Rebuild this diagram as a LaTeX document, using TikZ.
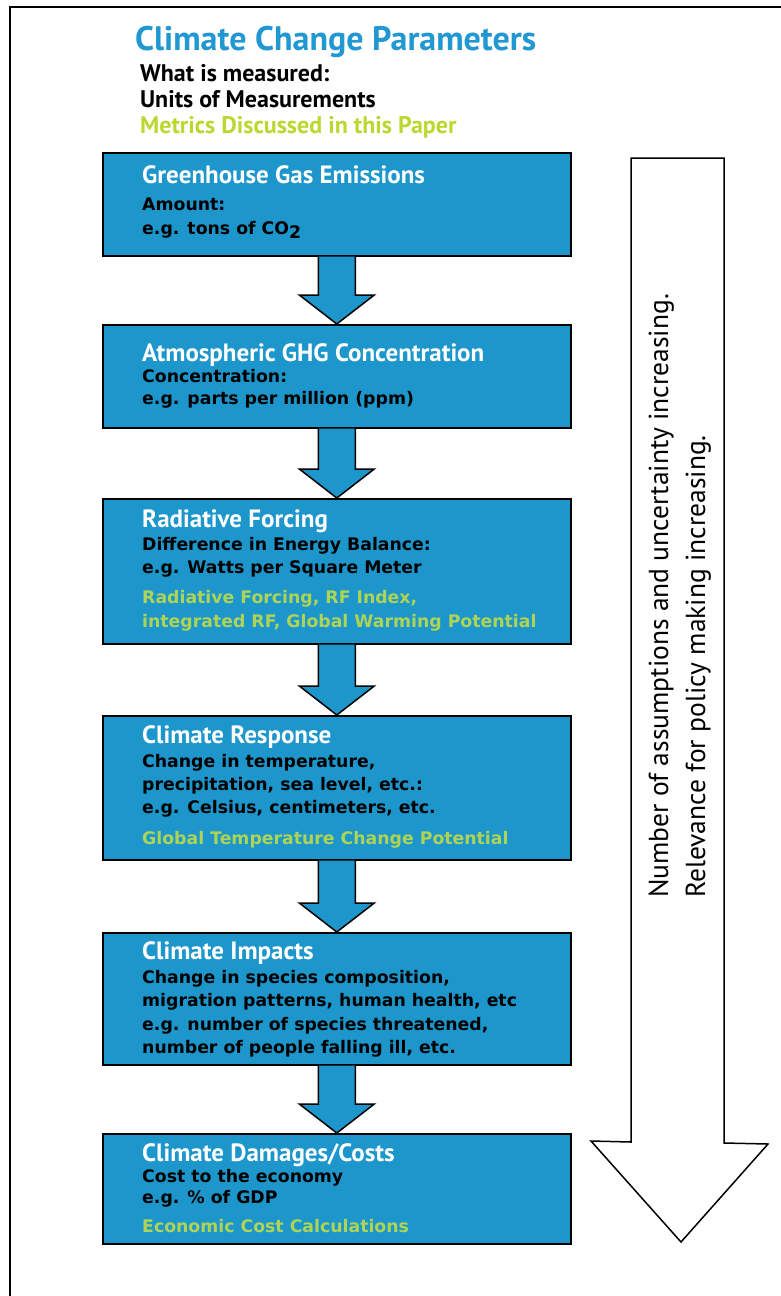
\documentclass[tikz,border=0pt]{standalone}
\usepackage{fontspec}
\setmainfont{PT Sans}
\newfontfamily\hfont{PT Sans}
\newfontfamily\bodyfont{DejaVu Sans}
\usetikzlibrary{calc}
\definecolor{boxblue}{RGB}{29,150,204}
\definecolor{titleblue}{RGB}{33,152,210}
\definecolor{limetitle}{RGB}{190,214,48}
\definecolor{limebox}{RGB}{174,212,86}
\begin{document}
\begin{tikzpicture}[x=1pt,y=-1pt,
  stagebox/.style={draw=black, line width=1.6pt, fill=boxblue, anchor=north west, inner sep=0pt, minimum width=468pt},
  headtxt/.style={anchor=base west, inner sep=0pt, text=white, font=\hfont\bfseries\fontsize{25}{29}\selectfont},
  bodytxt/.style={anchor=base west, inner sep=0pt, text=black, font=\bodyfont\bfseries\fontsize{17.3}{20}\selectfont},
  metrictxt/.style={bodytxt, text=limebox},
  legtxt/.style={anchor=base west, inner sep=0pt, font=\hfont\bfseries\fontsize{24}{28}\selectfont},
  sidetxt/.style={anchor=base west, inner sep=0pt, rotate=90, font=\hfont\fontsize{27.5}{32}\selectfont},
  barrow/.style={fill=boxblue, draw=black, line width=1.5pt, line join=miter},
  bigarrow/.style={fill=white, draw=black, line width=1.5pt, line join=miter}
]
\useasboundingbox (0,0) rectangle (781,1296);
\fill[white] (0,0) rectangle (781,1296);
% outer frame (partly visible)
\draw[line width=2pt] (10,1296) -- (10,7) -- (781,7);

% title and legend
\node[anchor=base west, inner sep=0pt, text=titleblue, font=\hfont\bfseries\fontsize{34}{40}\selectfont] (title) at (135,50) {Climate Change Parameters};
\node[legtxt] (leg1) at (140,81) {What is measured:};
\node[legtxt] (leg2) at (140,107) {Units of Measurements};
\node[legtxt, text=limetitle] (leg3) at (140,133) {Metrics Discussed in this Paper};

% stage boxes
\node[stagebox, minimum height=103pt] (b1) at (102,152) {};
\node[stagebox, minimum height=103pt] (b2) at (102,324) {};
\node[stagebox, minimum height=145pt] (b3) at (102,498) {};
\node[stagebox, minimum height=144pt] (b4) at (102,715) {};
\node[stagebox, minimum height=132pt] (b5) at (102,932) {};
\node[stagebox, minimum height=110pt] (b6) at (102,1133) {};

% block arrows between boxes
\foreach \a/\b in {b1/b2,b2/b3,b3/b4,b4/b5,b5/b6}{
  \fill[boxblue] let \p1=(\a.south), \p2=(\b.north) in
    (\x1-18.5pt,\y1) -- (\x1-18.5pt,\y2+29pt) -- (\x1-37.5pt,\y2+29pt) -- (\x2,\y2)
    -- (\x1+37.5pt,\y2+29pt) -- (\x1+18.5pt,\y2+29pt) -- (\x1+18.5pt,\y1) -- cycle;
  \draw[barrow, fill=none] let \p1=(\a.south), \p2=(\b.north) in
    (\x1-18.5pt,\y1) -- (\x1-18.5pt,\y2+29pt) -- (\x1-37.5pt,\y2+29pt) -- (\x2,\y2)
    -- (\x1+37.5pt,\y2+29pt) -- (\x1+18.5pt,\y2+29pt) -- (\x1+18.5pt,\y1);
}

% box 1
\node[headtxt] (h1) at (142,183) {Greenhouse Gas Emissions};
\node[bodytxt] (t1a) at (142,210) {Amount:};
\node[bodytxt] (t1b) at (142,234) {e.g. tons of CO\raisebox{-4pt}{2}};
% box 2
\node[headtxt] (h2) at (142,361) {Atmospheric GHG Concentration};
\node[bodytxt] (t2a) at (142,382) {Concentration:};
\node[bodytxt] (t2b) at (142,404) {e.g. parts per million (ppm)};
% box 3
\node[headtxt] (h3) at (142,527) {Radiative Forcing};
\node[bodytxt] (t3a) at (142,550) {Difference in Energy Balance:};
\node[bodytxt] (t3b) at (142,573) {e.g. Watts per Square Meter};
\node[metrictxt] (m3a) at (142,603) {Radiative Forcing, RF Index,};
\node[metrictxt] (m3b) at (142,627) {integrated RF, Global Warming Potential};
% box 4
\node[headtxt] (h4) at (142,743) {Climate Response};
\node[bodytxt] (t4a) at (142,767) {Change in temperature,};
\node[bodytxt] (t4b) at (142,790) {precipitation, sea level, etc.:};
\node[bodytxt] (t4c) at (142,813) {e.g. Celsius, centimeters, etc.};
\node[metrictxt] (m4a) at (142,844) {Global Temperature Change Potential};
% box 5
\node[headtxt] (h5) at (142,959) {Climate Impacts};
\node[bodytxt] (t5a) at (142,983) {Change in species composition,};
\node[bodytxt] (t5b) at (142,1006) {migration patterns, human health, etc};
\node[bodytxt] (t5c) at (142,1030) {e.g. number of species threatened,};
\node[bodytxt] (t5d) at (142,1053) {number of people falling ill, etc.};
% box 6
\node[headtxt] (h6) at (142,1161) {Climate Damages/Costs};
\node[bodytxt] (t6a) at (142,1182) {Cost to the economy};
\node[bodytxt] (t6b) at (142,1203) {e.g. \% of GDP};
\node[metrictxt] (m6a) at (142,1232) {Economic Cost Calculations};

% big side arrow
\draw[bigarrow] (631,158) -- (724,158) -- (724,1143) -- (768,1144) -- (681,1242) -- (591,1141) -- (631,1142) -- cycle;
\node[sidetxt] (s1) at (668,898) {Number of assumptions and uncertainty increasing.};
\node[sidetxt] (s2) at (705,898) {Relevance for policy making increasing.};
\end{tikzpicture}
\end{document}
